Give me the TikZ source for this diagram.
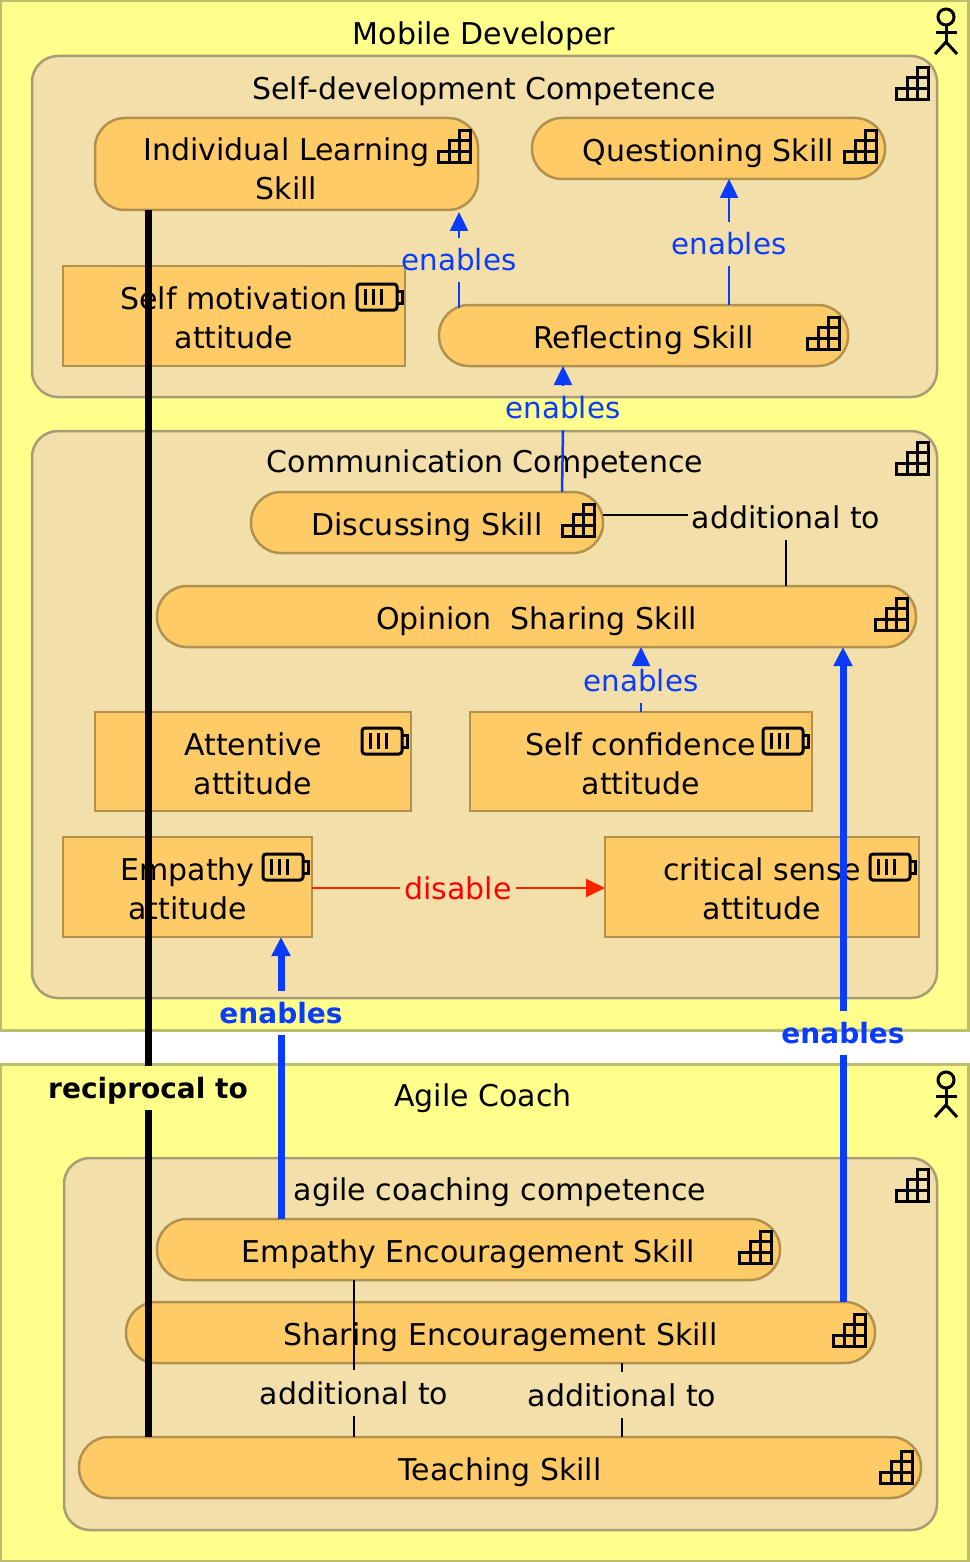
\documentclass[tikz,border=0pt]{standalone}
\usepackage{fontspec}
\setmainfont{DejaVu Sans}
\usepackage{xcolor}
\usepackage{tikz}
\usetikzlibrary{positioning,arrows.meta}
\definecolor{palYellow}{HTML}{FFFF8C}
\definecolor{palYellowDk}{HTML}{BDBD6E}
\definecolor{palTan}{HTML}{F3DFA9}
\definecolor{palTanDk}{HTML}{A89C78}
\definecolor{palOrange}{HTML}{FFCB66}
\definecolor{palOrangeDk}{HTML}{B0914F}
\definecolor{palBlue}{HTML}{0A3CFF}
\definecolor{palRed}{HTML}{FF2200}
\tikzset{
  x=1pt, y=-1pt,
  actorbox/.style={draw=palYellowDk, fill=palYellow, line width=3pt, inner sep=0pt, outer sep=0pt, minimum width=968pt},
  compbox/.style={draw=palTanDk, fill=palTan, line width=2.5pt, rounded corners=26pt, inner sep=0pt, outer sep=0pt},
  skillpill/.style={draw=palOrangeDk, fill=palOrange, line width=2.5pt, rounded corners=30pt, inner sep=0pt, outer sep=0pt,
                    align=center, labeltext, text height=31.8pt},
  attbox/.style={draw=palOrangeDk, fill=palOrange, line width=2.5pt, inner sep=0pt, outer sep=0pt, align=center, labeltext,
                 text height=65.8pt},
  labeltext/.style={font=\fontsize{30}{39}\selectfont},
  titlenode/.style={labeltext, inner sep=0pt},
  rellabel/.style={labeltext, inner xsep=4pt, inner ysep=11pt, outer sep=0pt},
  enlabel/.style={rellabel, text=palBlue, font=\fontsize{29.3}{39}\selectfont},
  heavylabel/.style={rellabel, font=\fontsize{28}{39}\selectfont\bfseries},
  enablesline/.style={palBlue, line width=2.5pt},
  heavyline/.style={palBlue, line width=7pt},
  reciline/.style={black, line width=7pt},
  addline/.style={black, line width=2pt},
  disableline/.style={palRed, line width=2pt},
  triTip/.style={-{Triangle[length=19pt,width=18pt]}},
  iconline/.style={black, line width=3pt},
  stairs/.pic={
    \draw[iconline] (-16,5) rectangle (-5,16);
    \draw[iconline] (-5,5) rectangle (5,16);
    \draw[iconline] (5,5) rectangle (16,16);
    \draw[iconline] (-5,-6) rectangle (5,5);
    \draw[iconline] (5,-6) rectangle (16,5);
    \draw[iconline] (5,-16) rectangle (16,-6);
  },
  battery/.pic={
    \draw[iconline, rounded corners=3pt] (-22,-13) rectangle (18,13);
    \draw[iconline] (18,-6) -- (23,-6) -- (23,6) -- (18,6);
    \draw[iconline] (-14,-8) -- (-14,8);
    \draw[iconline] (-6,-8) -- (-6,8);
    \draw[iconline] (2,-8) -- (2,8);
  },
  actorman/.pic={
    \draw[iconline] (0,-15) circle (8);
    \draw[iconline] (0,-7) -- (0,10);
    \draw[iconline] (-10.5,1) -- (10.5,1);
    \draw[iconline] (-11,22) -- (0,10) -- (11,22);
  },
}
\begin{document}
\begin{tikzpicture}
\useasboundingbox (0,0) rectangle (969,1562);

%% Actors
\node[actorbox, minimum height=1029pt] (mobileBox) at (484.5,515.5) {};
\node[actorbox, minimum height=497pt] (coachBox) at (484.5,1312.5) {};
\node[titlenode] (mobileTitle) at (484,36) {Mobile Developer};
\node[titlenode] (coachTitle) at (483,1098) {Agile Coach};
\pic at (946,32) {actorman};
\pic at (946,1095) {actorman};

%% Competences
\node[compbox, minimum width=905pt, minimum height=341pt] (selfComp) at (484.5,226.5) {};
\node[compbox, minimum width=905pt, minimum height=567pt] (commComp) at (484.5,714.5) {};
\node[compbox, minimum width=873pt, minimum height=372pt] (agileComp) at (500.5,1344) {};
\node[titlenode] (selfTitle) at (484,91) {Self-development Competence};
\node[titlenode] (commTitle) at (485,464) {Communication Competence};
\node[titlenode] (agileTitle) at (500,1192) {agile coaching competence};
\pic at (912,84) {stairs};
\pic at (912,458) {stairs};
\pic at (912,1185) {stairs};

%% Self-development Nodes
\node[skillpill, text height=71.8pt, minimum width=383pt, minimum height=92pt] (indSkill) at (286.5,164) {Individual Learning\\Skill};
\node[skillpill, minimum width=353pt, minimum height=61pt] (quesSkill) at (708.5,148.5) {Questioning Skill};
\node[skillpill, minimum width=409pt, minimum height=61pt] (reflSkill) at (643.5,335.5) {Reflecting Skill};
\node[attbox, minimum width=342pt, minimum height=100pt] (motiAtt) at (234,316) {Self motivation\\attitude};
\pic at (454,147) {stairs};
\pic at (860,147) {stairs};
\pic at (823,333) {stairs};
\pic at (379,297) {battery};

%% Communication Nodes
\node[skillpill, minimum width=352pt, minimum height=61pt] (discSkill) at (427,522.5) {Discussing Skill};
\node[skillpill, minimum width=759pt, minimum height=61pt] (opinSkill) at (536.5,616.5) {Opinion\ \ Sharing Skill};
\node[attbox, minimum width=316pt, minimum height=99pt] (attnAtt) at (253,761.5) {Attentive\\attitude};
\node[attbox, minimum width=342pt, minimum height=99pt] (confAtt) at (641,761.5) {Self confidence\\attitude};
\node[attbox, minimum width=249pt, minimum height=100pt] (empaAtt) at (187.5,887) {Empathy\\attitude};
\node[attbox, minimum width=314pt, minimum height=100pt] (critAtt) at (762,887) {critical sense\\attitude};
\pic at (578,520) {stairs};
\pic at (891,614) {stairs};
\pic at (384,741) {battery};
\pic at (785,741) {battery};
\pic at (285,867) {battery};
\pic at (892,867) {battery};

%% Agile Coach Nodes
\node[skillpill, minimum width=623pt, minimum height=61pt] (encoSkill) at (468.5,1249.5) {Empathy Encouragement Skill};
\node[skillpill, minimum width=749pt, minimum height=61pt] (sharSkill) at (500.5,1332.5) {Sharing Encouragement Skill};
\node[skillpill, minimum width=842pt, minimum height=61pt] (teacSkill) at (500,1467.5) {Teaching Skill};
\pic at (755,1247) {stairs};
\pic at (849,1330) {stairs};
\pic at (896,1467) {stairs};

%% Relation Labels
\node[enlabel] (enLearn) at (459,260) {enables};
\node[enlabel] (enQues) at (729,244) {enables};
\node[enlabel] (enRefl) at (563,408) {enables};
\node[enlabel] (enOpin) at (641,681) {enables};
\node[heavylabel, text=palBlue] (enEmpa) at (281,1013) {enables};
\node[heavylabel, text=palBlue] (enShar) at (843,1033) {enables};
\node[heavylabel, text depth=0pt] (recip) at (148,1088) {reciprocal to};
\node[rellabel] (addOpin) at (786,517) {additional to};
\node[rellabel] (addEnco) at (354,1393) {additional to};
\node[rellabel] (addShar) at (622,1395) {additional to};
\node[rellabel, text=red] (disLab) at (458,888) {disable};

%% Enables Arrows
\draw[enablesline, shorten <=-3pt] (reflSkill.north -| enLearn.south) -- (enLearn.south);
\draw[enablesline, triTip, shorten >=2pt] (enLearn.north) -- (indSkill.south -| enLearn.north);
\draw[enablesline] (reflSkill.north -| enQues.south) -- (enQues.south);
\draw[enablesline, triTip] (enQues.north) -- (quesSkill.south -| enQues.north);
\draw[enablesline] ([xshift=-1pt]discSkill.north -| enRefl.south) -- (enRefl.south);
\draw[enablesline, triTip] (enRefl.north) -- (reflSkill.south -| enRefl.north);
\draw[enablesline] (confAtt.north -| enOpin.south) -- (enOpin.south);
\draw[enablesline, triTip] (enOpin.north) -- (opinSkill.south -| enOpin.north);

%% Heavy Arrows
\draw[heavyline] (encoSkill.north -| enEmpa.south) -- (enEmpa.south);
\draw[heavyline, triTip] (enEmpa.north) -- (empaAtt.south -| enEmpa.north);
\draw[heavyline] (sharSkill.north -| enShar.south) -- (enShar.south);
\draw[heavyline, triTip] (enShar.north) -- (opinSkill.south -| enShar.north);
\draw[reciline] (teacSkill.north -| recip.south) -- (recip.south);
\draw[reciline] (recip.north) -- (indSkill.south -| recip.north);

%% Additional and Disable
\draw[addline] ([yshift=2pt]discSkill.east |- addOpin.west) -- ([yshift=2pt]addOpin.west);
\draw[addline] (addOpin.south) -- (opinSkill.north -| addOpin.south);
\draw[addline] (encoSkill.south -| addEnco.north) -- (addEnco.north);
\draw[addline] (addEnco.south) -- (teacSkill.north -| addEnco.south);
\draw[addline] (sharSkill.south -| addShar.north) -- (addShar.north);
\draw[addline] (addShar.south) -- (teacSkill.north -| addShar.south);
\draw[disableline] (empaAtt.east |- disLab.west) -- (disLab.west);
\draw[disableline, triTip] (disLab.east) -- (critAtt.west |- disLab.east);
\end{tikzpicture}
\end{document}
